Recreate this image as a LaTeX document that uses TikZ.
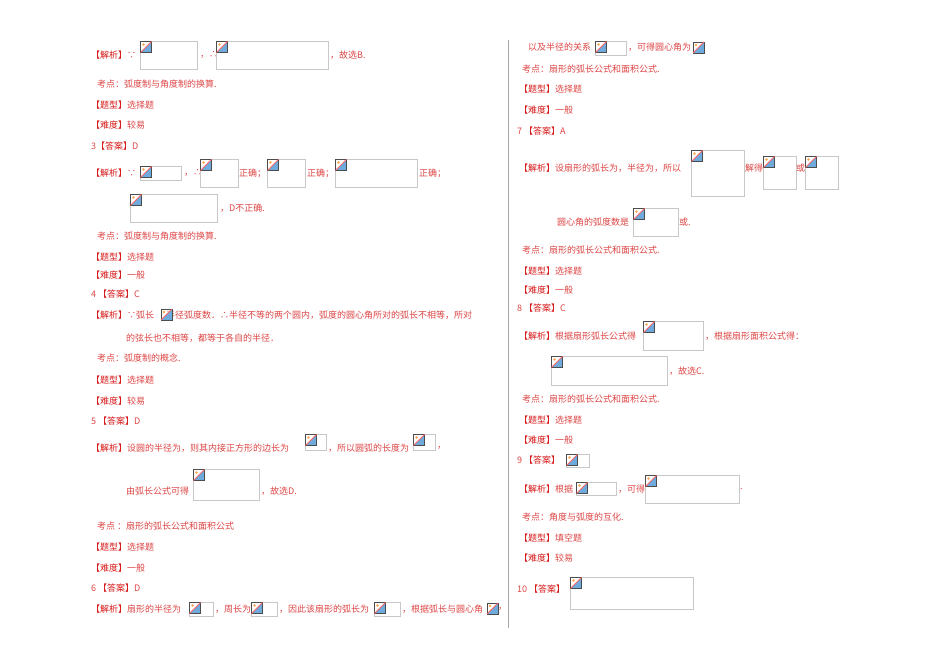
\documentclass[tikz,border=0pt]{standalone}
\usepackage{fontspec}
\setmainfont{Noto Sans CJK SC}
\definecolor{hdr}{RGB}{215,25,25}
\definecolor{bod}{RGB}{222,70,70}
\definecolor{pbox}{RGB}{200,200,200}
\definecolor{icb}{RGB}{110,170,220}
\tikzset{txt/.style={anchor=west,inner sep=0pt,text=bod,font=\fontsize{9}{10}\selectfont}}
\newcommand\hd[1]{{\color{hdr}【#1】}}
\newcommand\icon[2]{%
  \fill[icb] (#1+11,#2) -- (#1+11,#2+11) -- (#1,#2+11) -- cycle;
  \draw[black!70,line width=0.7pt] (#1,#2) rectangle (#1+11,#2+11);
  \fill[orange!70] (#1+3,#2+3) circle (1.3);
  \draw[red!60,line width=0.8pt] (#1,#2+11) -- (#1+11,#2);}
\newcommand\ph[4]{%
  \draw[pbox,line width=0.7pt] (#1,#2) rectangle (#3,#4);
  \icon{#1+0.5}{#2+0.5}}
\newcommand\T[3]{\node[txt] at (#1,#2) {#3};}
\begin{document}
\begin{tikzpicture}[x=1pt,y=-1pt]
\useasboundingbox (0,0) rectangle (950,671);
\fill[white] (0,0) rectangle (950,671);
\draw[gray!70,line width=0.8pt] (508,40) -- (508,628);
% ---- left column
\T{91}{55}{\hd{解析}∵}\ph{140}{41}{197}{69}\T{200}{55}{，∴}\ph{216}{41}{328}{69}\T{330}{55}{，故选B.}
\T{97}{84}{考点：弧度制与角度制的换算.}
\T{91}{105}{\hd{题型}选择题}
\T{91}{125}{\hd{难度}较易}
\T{91}{146}{3\hd{答案}D}
\T{91}{173}{\hd{解析}∵}\ph{140}{166}{181}{180}\T{184}{173}{，∴}\ph{200}{159}{238}{187}\T{239}{173}{正确；}\ph{267}{159}{305}{187}\T{307}{173}{正确；}\ph{335}{159}{417}{187}\T{419}{173}{正确；}
\ph{130}{194}{217}{222}\T{220}{208}{，D不正确.}
\T{97}{236}{考点：弧度制与角度制的换算.}
\T{91}{257}{\hd{题型}选择题}
\T{91}{275}{\hd{难度}一般}
\T{91}{294}{4 \hd{答案}C}
\T{91}{315}{\hd{解析}∵弧长\hspace{12pt}半径弧度数．∴半径不等的两个圆内，弧度的圆心角所对的弧长不相等，所对}\icon{161}{309}
\T{126}{338}{的弦长也不相等，都等于各自的半径．}
\T{97}{358}{考点：弧度制的概念.}
\T{91}{380}{\hd{题型}选择题}
\T{91}{401}{\hd{难度}较易}
\T{91}{421}{5 \hd{答案}D}
\T{91}{448}{\hd{解析}设圆的半径为，则其内接正方形的边长为}\ph{305}{434}{326}{450}\T{328}{448}{，所以圆弧的长度为}\ph{413}{434}{435}{450}\T{437}{448}{，}
\T{126}{491}{由弧长公式可得}\ph{193}{469}{259}{500}\T{261}{491}{，故选D.}
\T{97}{526}{考点 ：扇形的弧长公式和面积公式}
\T{91}{547}{\hd{题型}选择题}
\T{91}{568}{\hd{难度}一般}
\T{91}{588}{6 \hd{答案}D}
\T{91}{609}{\hd{解析}扇形的半径为}\ph{189}{602}{213}{616}\T{215}{609}{，周长为}\ph{251}{602}{277}{616}\T{279}{609}{，因此该扇形的弧长为}\ph{374}{602}{400}{616}\T{402}{609}{，根据弧长与圆心角}\icon{487}{603}\T{498}{609}{，}
% ---- right column
\T{528}{47}{以及半径的关系}\ph{595}{41}{626}{55}\T{628}{47}{，可得圆心角为}\icon{693}{42}
\T{522}{69}{考点：扇形的弧长公式和面积公式.}
\T{519}{89}{\hd{题型}选择题}
\T{519}{110}{\hd{难度}一般}
\T{517}{131}{7 \hd{答案}A}
\T{519}{168}{\hd{解析}设扇形的弧长为，半径为，所以}\ph{691}{150}{744}{196}\T{745}{168}{解得}\ph{763}{156}{796}{189}\T{796}{168}{或}\ph{805}{156}{838}{189}
\T{557}{222}{圆心角的弧度数是}\ph{633}{208}{678}{236}\T{679}{222}{或.}
\T{522}{250}{考点：扇形的弧长公式和面积公式.}
\T{519}{271}{\hd{题型}选择题}
\T{519}{290}{\hd{难度}一般}
\T{517}{308}{8 \hd{答案}C}
\T{519}{336}{\hd{解析}根据扇形弧长公式得}\ph{643}{321}{703}{350}\T{705}{336}{，根据扇形面积公式得：}
\ph{551}{356}{667}{385}\T{669}{371}{，故选C.}
\T{522}{399}{考点：扇形的弧长公式和面积公式.}
\T{519}{420}{\hd{题型}选择题}
\T{519}{440}{\hd{难度}一般}
\T{517}{460}{9 \hd{答案}}\ph{566}{454}{589}{467}
\T{519}{489}{\hd{解析}根据}\ph{576}{482}{616}{495}\T{618}{489}{，可得}\ph{645}{475}{739}{503}\T{740}{489}{.}
\T{522}{517}{考点：角度与弧度的互化.}
\T{519}{538}{\hd{题型}填空题}
\T{519}{558}{\hd{难度}较易}
\T{517}{589}{10 \hd{答案}}\ph{570}{577}{693}{609}
\end{tikzpicture}
\end{document}
